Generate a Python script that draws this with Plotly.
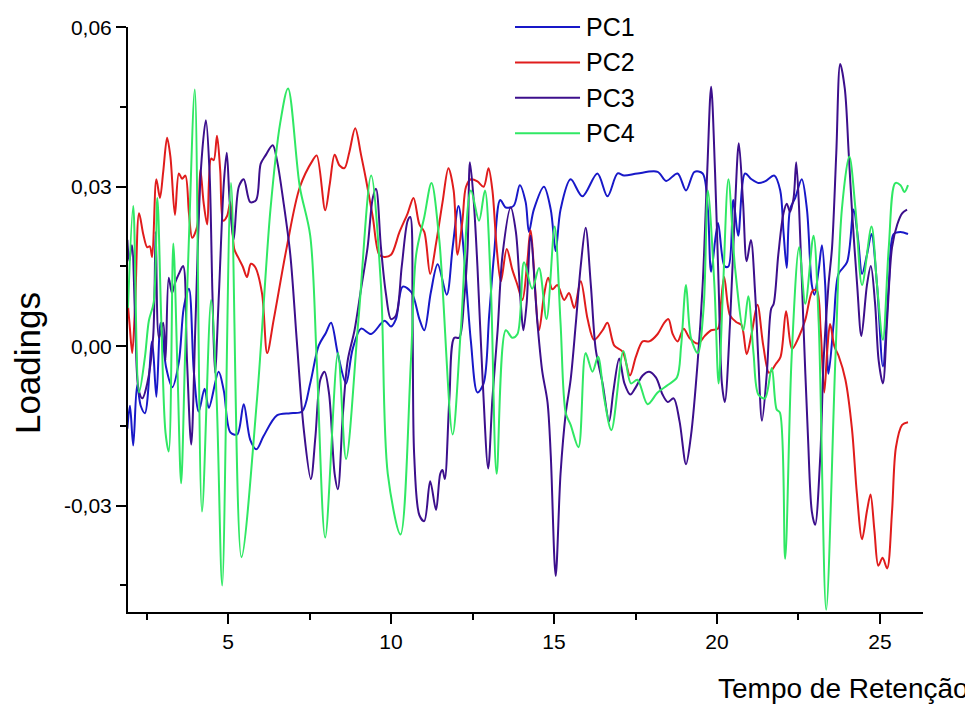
import plotly.graph_objects as go

# Retention time (min) and loading values for each principal component
pc1_x = [1.91, 1.99, 2.09, 2.21, 2.32, 2.45, 2.67, 2.8, 2.93, 3.1, 3.29, 3.49, 3.64, 3.8, 3.95,
         4.1, 4.28, 4.41, 4.71, 4.87, 5.07, 5.28, 5.48, 5.68, 5.87, 6.09, 6.5, 6.91, 7.27, 7.52,
         7.78, 8.0, 8.16, 8.37, 8.62, 8.82, 9.08, 9.39, 9.8, 10.0, 10.15, 10.36, 10.63, 10.87,
         11.02, 11.22, 11.43, 11.71, 11.89, 12.07, 12.24, 12.45, 12.65, 12.84, 13.01, 13.16,
         13.35, 13.52, 13.76, 13.95, 14.13, 14.23, 14.38, 14.69, 14.9, 15.05, 15.2, 15.51, 15.87,
         16.33, 16.64, 16.95, 17.15, 17.56, 18.18, 18.44, 18.79, 19.05, 19.31, 19.56, 19.72,
         19.82, 20.03, 20.23, 20.35, 20.5, 20.65, 20.86, 21.06, 21.27, 21.47, 21.76, 21.94, 22.04,
         22.14, 22.24, 22.4, 22.6, 22.76, 22.91, 22.99, 23.12, 23.22, 23.32, 23.42, 23.58, 23.73,
         23.99, 24.19, 24.33, 24.45, 24.6, 24.74, 24.91, 25.09, 25.27, 25.42, 25.63, 25.86]
pc1_y = [-15.5, -11.2, -18.7, -7.3, -11.2, -12.6, 0.9, -9.5, 4.4, -4.0, -7.7, -3.0, 7.2, 10.8, -4.8,
         -12.3, -8.0, -11.6, -4.8, -8.4, -16.2, -16.6, -10.9, -17.6, -19.4, -16.9, -13.0, -12.6,
         -12.3, -7.0, 0.1, 2.5, 4.4, -1.5, -7.0, -0.6, 3.3, 2.3, 4.8, 3.7, 5.1, 11.2, 10.1, 5.1,
         3.0, 10.1, 15.4, 9.7, 18.6, 26.4, 17.2, 0.9, -8.7, -7.0, 5.8, 17.2, 27.5, 26.1, 26.4,
         30.3, 27.1, 21.5, 25.7, 30.0, 25.7, 17.9, 25.7, 31.4, 28.2, 32.5, 28.2, 32.5, 32.1, 32.5,
         32.8, 31.1, 32.5, 29.3, 32.8, 32.5, 25.7, 14.0, 23.2, 15.1, 15.0, 27.5, 20.8, 32.5, 31.4,
         30.7, 31.0, 32.1, 29.3, 21.5, 14.7, 25.7, 27.9, 31.4, 25.7, 11.5, 9.7, 14.4, 19.0, 11.5,
         -5.2, 4.4, 13.6, 15.8, 25.7, 20.0, 13.6, 17.2, 21.1, 11.5, -3.8, 11.5, 21.1, 21.5, 21.1]

pc2_x = [1.93, 1.98, 2.06, 2.15, 2.27, 2.4, 2.52, 2.6, 2.67, 2.8, 2.91, 3.01, 3.13, 3.23, 3.37,
         3.49, 3.59, 3.69, 3.8, 3.9, 4.05, 4.15, 4.25, 4.36, 4.48, 4.56, 4.66, 4.76, 4.85, 4.97,
         5.07, 5.19, 5.31, 5.45, 5.58, 5.7, 5.83, 6.04, 6.2, 6.4, 6.8, 7.2, 7.6, 7.72, 7.98, 8.12,
         8.27, 8.42, 8.57, 8.72, 8.9, 9.08, 9.23, 9.44, 9.64, 9.8, 10.0, 10.26, 10.51, 10.69,
         10.87, 11.02, 11.2, 11.38, 11.58, 11.76, 11.92, 12.04, 12.19, 12.3, 12.45, 12.65, 12.84,
         12.99, 13.11, 13.24, 13.37, 13.55, 13.72, 13.88, 14.03, 14.18, 14.28, 14.54, 14.69,
         14.82, 14.95, 15.1, 15.31, 15.46, 15.62, 15.82, 16.03, 16.23, 16.49, 16.64, 16.85, 17.1,
         17.33, 17.51, 17.72, 17.92, 18.18, 18.38, 18.51, 18.64, 18.79, 18.98, 19.15, 19.41,
         19.62, 19.82, 20.03, 20.12, 20.22, 20.4, 20.6, 20.75, 20.91, 21.06, 21.24, 21.42, 21.6,
         21.8, 21.95, 22.12, 22.3, 22.5, 22.71, 22.93, 23.06, 23.18, 23.29, 23.38, 23.47, 23.6,
         23.73, 23.94, 24.14, 24.29, 24.45, 24.6, 24.71, 24.83, 24.95, 25.08, 25.22, 25.37,
         25.49, 25.68, 25.86]
pc2_y = [7.5, 4.0, -1.3, 8.0, 25.0, 21.0, 18.6, 18.8, 16.8, 31.4, 27.9, 32.8, 39.2, 35.7, 24.7,
         32.5, 31.5, 32.1, 25.0, 20.4, 22.5, 33.2, 27.0, 22.9, 35.3, 35.0, 39.6, 33.0, 23.6, 24.5,
         27.1, 18.3, 16.7, 15.0, 13.0, 15.5, 14.9, 10.0, -1.3, 5.0, 18.6, 29.9, 35.0, 35.9, 25.6,
         30.5, 36.0, 34.0, 33.5, 36.5, 41.0, 36.0, 31.4, 24.3, 17.2, 16.8, 17.2, 21.5, 25.0, 27.9,
         22.9, 21.5, 13.6, 19.3, 27.1, 33.5, 29.3, 17.2, 23.6, 30.0, 31.4, 31.0, 30.0, 33.5, 29.3,
         18.6, 12.2, 18.3, 14.4, 11.5, 8.7, 15.8, 21.8, 3.0, 9.5, 12.9, 10.7, 11.5, 8.7, 10.0, 7.2,
         12.2, 5.1, 1.2, 3.0, 4.4, 0.1, -1.0, -5.5, -2.0, 0.9, 0.9, 2.3, 4.4, 5.1, 2.3, 0.9, 3.3,
         1.6, 0.5, 1.9, 3.0, 3.3, 8.0, 13.0, 5.8, 4.5, 4.0, -1.5, 2.3, 7.8, 0.1, -5.0, -3.4, -2.0,
         6.6, -0.5, 1.6, 5.0, 10.4, 10.5, 3.0, -8.7, -1.0, 4.2, 0.0, -1.8, -6.3, -15.5, -27.6,
         -36.3, -31.0, -27.9, -34.7, -41.3, -39.8, -41.8, -31.1, -19.0, -14.8, -14.3]

pc3_x = [1.91, 1.97, 2.05, 2.15, 2.25, 2.37, 2.52, 2.7, 2.78, 2.88, 3.01, 3.08, 3.18, 3.28, 3.38,
         3.49, 3.62, 3.74, 3.87, 4.0, 4.17, 4.32, 4.43, 4.52, 4.6, 4.72, 4.87, 4.96, 5.05, 5.17,
         5.33, 5.48, 5.68, 5.86, 6.0, 6.14, 6.37, 6.5, 6.7, 6.91, 7.11, 7.32, 7.54, 7.68, 7.83,
         7.96, 8.1, 8.27, 8.37, 8.52, 8.67, 8.88, 9.08, 9.28, 9.44, 9.54, 9.69, 9.84, 10.0, 10.15,
         10.33, 10.51, 10.59, 10.66, 10.71, 10.87, 11.02, 11.2, 11.38, 11.51, 11.58, 11.65, 11.79,
         11.94, 12.09, 12.24, 12.35, 12.42, 12.53, 12.65, 12.81, 12.98, 13.11, 13.27, 13.42,
         13.67, 13.83, 13.98, 14.06, 14.16, 14.28, 14.49, 14.64, 14.8, 14.9, 15.05, 15.2, 15.36,
         15.51, 15.67, 15.82, 15.97, 16.13, 16.28, 16.49, 16.69, 16.82, 17.0, 17.16, 17.34, 17.51,
         17.72, 17.92, 18.13, 18.33, 18.49, 18.67, 18.85, 19.05, 19.2, 19.41, 19.56, 19.7, 19.82,
         19.94, 20.05, 20.15, 20.24, 20.4, 20.55, 20.67, 20.8, 20.91, 21.04, 21.17, 21.27, 21.38,
         21.53, 21.66, 21.74, 21.88, 22.04, 22.14, 22.24, 22.35, 22.43, 22.52, 22.65, 22.79,
         22.91, 23.01, 23.17, 23.27, 23.42, 23.53, 23.66, 23.78, 23.92, 24.04, 24.14, 24.3, 24.43,
         24.6, 24.72, 24.85, 24.96, 25.09, 25.22, 25.37, 25.53, 25.68, 25.83]
pc3_y = [20.0, 16.0, 19.0, 5.0, -8.0, -9.8, -7.0, 1.6, 21.5, 1.6, 4.4, -2.7, 12.9, 10.0, 12.0,
         13.6, 15.1, -2.7, -18.5, 4.4, 33.5, 42.5, 33.0, 10.0, -5.0, 10.0, 30.7, 36.4, 27.1, 20.0,
         30.0, 31.4, 27.1, 27.5, 34.3, 35.8, 37.8, 35.0, 27.1, 17.2, 0.9, -15.5, -25.0, -17.0,
         -6.3, -4.8, -9.0, -24.0, -26.9, -13.0, -2.7, 3.0, 10.8, 18.6, 27.9, 29.6, 18.6, 10.0, 5.1,
         5.8, 15.1, 23.6, 24.3, 5.0, -20.5, -31.8, -32.9, -25.4, -30.8, -24.0, -23.3, -25.0, -9.8,
         1.6, 1.6, 8.7, 18.6, 34.6, 27.9, 15.1, -6.3, -23.0, -9.8, 3.0, 17.2, 26.1, 21.5, 8.0, 3.0,
         8.0, 20.8, 4.4, -4.8, -10.5, -20.5, -43.2, -24.0, -12.6, -6.3, 4.4, 15.1, 22.3, 11.5,
         -0.6, -7.0, -14.1, -8.5, -2.3, -7.0, -9.1, -7.7, -5.5, -4.8, -5.9, -9.1, -10.5, -9.8,
         -14.1, -22.2, -16.9, -2.7, 11.5, 32.8, 48.8, 32.8, 11.5, -7.0, -10.5, 4.4, 25.7, 38.2,
         27.0, 16.0, 20.0, 10.0, -2.7, -14.0, -5.0, 7.0, 8.0, 17.2, 25.0, 26.8, 25.3, 27.9, 34.6,
         25.7, 4.4, -16.9, -31.1, -33.6, -20.5, -2.7, 11.5, 18.6, 36.4, 53.1, 48.5, 36.4, 25.7,
         11.5, 1.9, 11.5, 15.1, 8.0, -2.7, -7.0, 5.0, 18.6, 22.9, 25.0, 25.7]

pc4_x = [1.93, 2.09, 2.27, 2.45, 2.57, 2.72, 2.83, 2.95, 3.08, 3.18, 3.32, 3.45, 3.56, 3.68, 3.8,
         3.98, 4.2, 4.48, 4.65, 4.82, 5.09, 5.41, 5.89, 6.3, 6.6, 6.84, 7.2, 7.52, 7.72, 7.98,
         8.37, 8.62, 9.0, 9.39, 9.69, 9.9, 10.29, 10.61, 10.77, 11.02, 11.24, 11.48, 11.89, 12.14,
         12.45, 12.7, 12.88, 13.06, 13.24, 13.52, 13.72, 13.88, 14.08, 14.33, 14.54, 14.77, 15.02,
         15.2, 15.36, 15.51, 15.75, 15.97, 16.18, 16.35, 16.54, 16.76, 17.13, 17.36, 17.56, 17.87,
         18.18, 18.49, 18.77, 18.9, 19.05, 19.2, 19.41, 19.59, 19.72, 19.92, 20.05, 20.18, 20.35,
         20.55, 20.81, 20.96, 21.12, 21.27, 21.47, 21.68, 21.83, 21.93, 22.09, 22.29, 22.52, 22.71,
         22.96, 23.12, 23.35, 23.63, 23.83, 24.06, 24.25, 24.45, 24.74, 24.91, 25.09, 25.27,
         25.47, 25.63, 25.75, 25.86]
pc4_y = [7.2, 26.4, -8.7, -2.0, 4.8, 8.3, 27.9, 5.0, -16.2, -19.8, 19.3, -5.0, -25.8, -2.0, 20.4,
         48.3, -31.1, 8.7, -10.0, -45.0, 30.7, -39.7, -9.8, 25.7, 42.0, 48.5, 30.0, 20.8, -2.7,
         -36.0, -1.3, -21.2, 5.0, 32.1, 11.5, -24.0, -35.4, -2.7, 17.2, 24.3, 30.7, 20.0, -16.6,
         3.0, 29.3, 23.6, 29.3, 11.5, -24.0, 3.0, 1.6, 2.3, 15.8, 10.8, 14.7, 5.1, 22.5, 4.4,
         -12.6, -14.8, -19.0, -1.3, -4.8, -2.0, -9.8, -15.8, -0.9, -7.0, -6.3, -10.9, -8.7, -7.3,
         -5.9, 0.1, 11.5, 1.6, -1.3, 7.2, 29.3, 11.5, -7.0, 10.0, 31.4, 15.0, 3.0, 9.4, -1.3,
         -9.1, -9.8, -4.1, -11.9, -12.5, -40.0, -2.0, 18.6, 8.0, 20.8, 4.4, -49.6, -2.7, 25.7,
         35.7, 25.7, 11.5, 22.5, 11.5, 1.2, 18.6, 30.7, 30.3, 29.0, 30.3]

series_names = ["PC1", "PC2", "PC3", "PC4"]
series_colors = ["#1818c8", "#e01c1c", "#3c0f8c", "#30e864"]
series_x = [pc1_x, pc2_x, pc3_x, pc4_x]
series_y = [pc1_y, pc2_y, pc3_y, pc4_y]

x_ticks = [5, 10, 15, 20, 25]
y_ticks = [-0.03, 0.0, 0.03, 0.06]
y_tick_text = ["-0,03", "0,00", "0,03", "0,06"]

FONT = "Liberation Sans, Arial"

fig = go.Figure()
for name, color, xs, ys in zip(series_names, series_colors, series_x, series_y):
    fig.add_trace(go.Scatter(
        x=xs, y=[v / 1000.0 for v in ys], mode="lines", name=name,
        line=dict(color=color, width=2, shape="spline", smoothing=0.9),
        showlegend=False,
    ))

# Legend drawn as line samples with labels, stacked top-centre
legend_top = 1.0
legend_step = 0.0605
for i, (name, color) in enumerate(zip(series_names, series_colors)):
    yy = legend_top - i * legend_step
    fig.add_shape(type="line", xref="paper", yref="paper",
                  x0=0.4868, x1=0.5686, y0=yy, y1=yy,
                  line=dict(color=color, width=2))
    fig.add_annotation(xref="paper", yref="paper", x=0.574, y=yy, text=name,
                       showarrow=False, xanchor="left", yanchor="middle",
                       font=dict(family=FONT, size=25, color="black"))

fig.add_annotation(xref="paper", yref="paper", x=-0.127, y=0.4256, text="Loadings",
                   textangle=-90, showarrow=False, xanchor="center", yanchor="middle",
                   font=dict(family=FONT, size=35, color="black"))
fig.add_annotation(xref="paper", yref="paper", x=0.739, y=-0.13, text="Tempo de Retenção",
                   showarrow=False, xanchor="left", yanchor="middle",
                   font=dict(family=FONT, size=28, color="black"))

axis_font = dict(family=FONT, size=21, color="black")
fig.update_layout(
    width=965, height=706, autosize=False,
    margin=dict(l=128, r=42, t=27, b=94),
    paper_bgcolor="white", plot_bgcolor="white",
    showlegend=False,
    xaxis=dict(
        range=[1.93, 26.32], showgrid=False, zeroline=False,
        showline=True, linecolor="black", linewidth=2,
        tickmode="array", tickvals=x_ticks, ticktext=[str(t) for t in x_ticks],
        ticks="outside", ticklen=10, tickwidth=2, tickcolor="black",
        tickfont=axis_font,
        minor=dict(tickmode="linear", tick0=0, dtick=2.5, ticks="outside",
                   ticklen=6, tickwidth=2, tickcolor="black", showgrid=False),
    ),
    yaxis=dict(
        range=[-0.05, 0.06005], showgrid=False, zeroline=False,
        showline=True, linecolor="black", linewidth=2,
        tickmode="array", tickvals=y_ticks, ticktext=y_tick_text,
        ticks="outside", ticklen=10, tickwidth=2, tickcolor="black",
        tickfont=axis_font,
        minor=dict(tickmode="linear", tick0=0, dtick=0.015, ticks="outside",
                   ticklen=6, tickwidth=2, tickcolor="black", showgrid=False),
    ),
)

fig.write_html("out.html")
